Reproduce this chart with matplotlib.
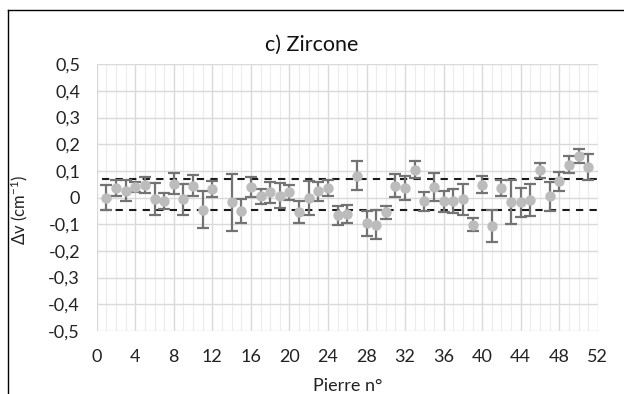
import matplotlib
matplotlib.use("Agg")
import matplotlib.pyplot as plt
from matplotlib.ticker import FuncFormatter, MultipleLocator
from matplotlib.lines import Line2D

plt.rcParams['font.family'] = ['Lato', 'DejaVu Sans']
plt.rcParams['mathtext.default'] = 'regular'

stones = [1, 2, 3, 4, 5, 6, 7, 8, 9, 10, 11, 12, 14, 15, 16, 17, 18, 19, 20,
          21, 22, 23, 24, 25, 26, 27, 28, 29, 30, 31, 32, 33, 34, 35, 36, 37,
          38, 39, 40, 41, 42, 43, 44, 45, 46, 47, 48, 49, 50, 51]
delta = [0.0, 0.036, 0.026, 0.04, 0.049, -0.005, -0.014, 0.052, -0.007, 0.045,
         -0.045, 0.032, -0.017, -0.051, 0.04, 0.005, 0.02, 0.007, 0.02,
         -0.055, -0.001, 0.024, 0.036, -0.067, -0.063, 0.082, -0.097, -0.101,
         -0.055, 0.045, 0.036, 0.105, -0.014, 0.04, -0.014, -0.014, -0.007,
         -0.101, 0.049, -0.105, 0.036, -0.017, -0.017, -0.01, 0.102, 0.005,
         0.061, 0.124, 0.157, 0.115]
err = [0.046, 0.03, 0.04, 0.02, 0.03, 0.06, 0.03, 0.04, 0.058, 0.04,
       0.07, 0.03, 0.107, 0.045, 0.037, 0.028, 0.04, 0.047, 0.028,
       0.042, 0.065, 0.036, 0.029, 0.037, 0.034, 0.054, 0.047, 0.055,
       0.024, 0.044, 0.044, 0.032, 0.036, 0.053, 0.04, 0.045, 0.058,
       0.025, 0.033, 0.06, 0.03, 0.082, 0.054, 0.06, 0.029, 0.054,
       0.036, 0.031, 0.027, 0.05]
upper_limit = 0.068
lower_limit = -0.046
limit_span = [0.5, 52]

xticks = list(range(0, 53, 4))
yticks = [-0.5, -0.4, -0.3, -0.2, -0.1, 0, 0.1, 0.2, 0.3, 0.4, 0.5]

fig = plt.figure(figsize=(6.24, 3.94), dpi=100)
ax = fig.add_axes([0.155, 0.16, 0.803, 0.677])

ax.errorbar(stones, delta, yerr=err, fmt='o', color='#bcbcbc', markersize=6.5,
            ecolor='#737373', elinewidth=1.6, capsize=4, capthick=1.6, zorder=3)
ax.plot(limit_span, [upper_limit, upper_limit], color='#1a1a1a', lw=1.5,
        ls=(0, (3.5, 3)), zorder=2)
ax.plot(limit_span, [lower_limit, lower_limit], color='#1a1a1a', lw=1.5,
        ls=(0, (3.5, 3)), zorder=2)

ax.set_xlim(0, 52)
ax.set_ylim(-0.5, 0.5)
ax.set_xticks(xticks)
ax.set_yticks(yticks)
ax.xaxis.set_minor_locator(MultipleLocator(1))
ax.yaxis.set_minor_locator(MultipleLocator(0.1))

def fmt(v, pos):
    if abs(v) < 1e-9:
        return '0'
    return ('%.1f' % v).replace('.', ',')
ax.yaxis.set_major_formatter(FuncFormatter(fmt))

ax.grid(which='major', color='#d9d9d9', lw=1.0, zorder=0)
ax.grid(which='minor', axis='x', color='#ececec', lw=0.8, zorder=0)
ax.set_axisbelow(True)
for s in ax.spines.values():
    s.set_visible(False)
ax.tick_params(which='both', length=0, labelsize=13, colors='#222222')
ax.tick_params(axis='x', pad=13)
ax.tick_params(axis='y', pad=12)

fig.text(312/624, 1 - 45/394, 'c) Zircone', fontsize=15.5, color='#111111',
         ha='center', va='center')
ax.set_xlabel('Pierre n°', fontsize=13, color='#222222', labelpad=9)
ax.set_ylabel(r'Δv (cm$^{-1}$)', fontsize=12, color='#222222')
ax.yaxis.set_label_coords(-(97 - 30) / 501, 0.453)

fig.add_artist(Line2D([8/624, 8/624], [0, 1 - 10/394], color='black', lw=1.0,
                      transform=fig.transFigure))
fig.add_artist(Line2D([8/624, 1], [1 - 10/394, 1 - 10/394], color='black', lw=1.0,
                      transform=fig.transFigure))

fig.savefig('out.png', dpi=100)
